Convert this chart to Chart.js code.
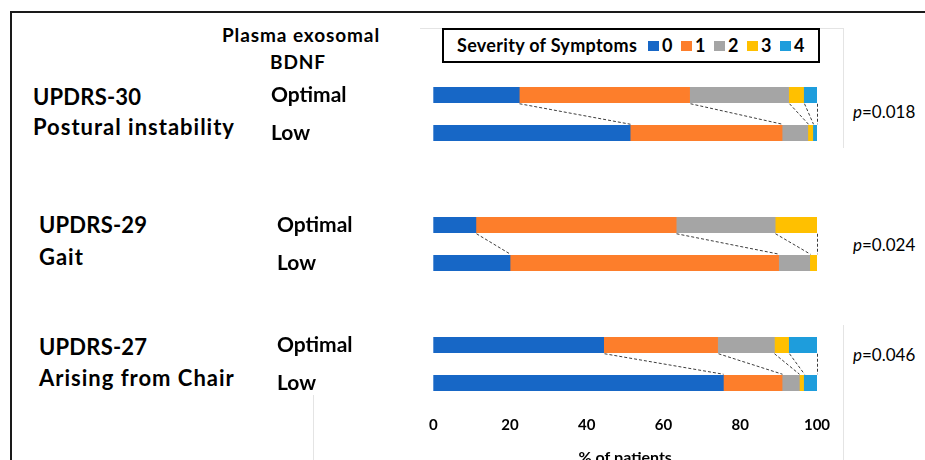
<!DOCTYPE html>
<html>
<head>
<meta charset="utf-8">
<script src="https://cdn.jsdelivr.net/npm/chart.js@4.4.1/dist/chart.umd.min.js"></script>
<style>
html,body{margin:0;padding:0;width:925px;height:460px;overflow:hidden;background:#fff;}
body{position:relative;font-family:Lato,"Noto Sans",sans-serif;color:#000;}
.t{position:absolute;white-space:nowrap;font-weight:bold;}
canvas{position:absolute;}
.frameTop{position:absolute;left:10px;top:11px;width:915px;height:2px;background:#1a1a1a;}
.frameLeft{position:absolute;left:10px;top:11px;width:2px;height:460px;background:#1a1a1a;}
.faint{position:absolute;background:#e4e4e4;}
#legend{position:absolute;left:442px;top:28px;width:374px;height:31px;border:2px solid #000;font-weight:bold;font-size:18px;line-height:31px;}
#legend span{position:absolute;white-space:nowrap;}
#legend .sw{width:11px;height:10px;top:11px;}
</style>
</head>
<body>
<div class="frameTop"></div>
<div class="frameLeft"></div>
<div class="faint" style="left:420px;top:28px;width:423px;height:1px;"></div>
<div class="faint" style="left:843px;top:28px;width:1px;height:120px;"></div>
<div class="faint" style="left:843px;top:325px;width:1px;height:135px;"></div>
<div class="faint" style="left:313px;top:395px;width:1px;height:65px;"></div>
<div id="legend"></div>
<canvas id="c0"></canvas>
<canvas id="c1"></canvas>
<canvas id="c2"></canvas>
<script>
// ---------- data ----------
const severityLevels = ['0', '1', '2', '3', '4'];
const bdnfGroups = ['Optimal', 'Low'];
const itemCodes = ['UPDRS-30', 'UPDRS-29', 'UPDRS-27'];
const itemNames = ['Postural instability', 'Gait', 'Arising from Chair'];
const pValues = ['0.018', '0.024', '0.046'];
const xTickValues = [0, 20, 40, 60, 80, 100];
const updrs30Optimal = [22.4, 44.4, 25.8, 3.9, 3.5];
const updrs30Low     = [51.3, 39.6, 6.7, 1.3, 1.1];
const updrs29Optimal = [11.1, 52.2, 25.8, 10.9, 0];
const updrs29Low     = [20.0, 70.0, 8.1, 1.9, 0];
const updrs27Optimal = [44.4, 29.7, 14.8, 3.7, 7.4];
const updrs27Low     = [75.6, 15.3, 4.5, 1.1, 3.5];
const legendTitle = 'Severity of Symptoms';
const headerLines = ['Plasma exosomal', 'BDNF'];
const xAxisTitle = '% of patients';

// ---------- styles ----------
const palette = ['#1767C6', '#FD7E2B', '#A5A5A5', '#FFC000', '#1E9DDC'];
const fontFam = 'Lato, "Noto Sans", sans-serif';

// ---------- text ----------
function addText(txt, left, cy, size, opts = {}) {
  const d = document.createElement('div');
  d.className = 't';
  d.textContent = txt;
  d.style.fontSize = size + 'px';
  d.style.lineHeight = (size * 1.2) + 'px';
  d.style.top = (cy - size * 0.6) + 'px';
  d.style.left = left + 'px';
  if (opts.center) d.style.transform = 'translateX(-50%)';
  if (opts.normal) d.style.fontWeight = 'normal';
  if (opts.ls) d.style.letterSpacing = opts.ls + 'px';
  document.body.appendChild(d);
  return d;
}
addText(headerLines[0], 301, 35, 19, {center: true, ls: 0.9});
addText(headerLines[1], 298, 62, 19, {center: true, ls: 0.9});

const layout = [
  {left: 271, top: 75.5, codeX: 33, codeY: 97, nameY: 127, pY: 112},
  {left: 277, top: 205.5, codeX: 39, codeY: 225, nameY: 257, pY: 245},
  {left: 277, top: 326, codeX: 39, codeY: 347, nameY: 378, pY: 355}
];
itemCodes.forEach((c, i) => {
  addText(c, layout[i].codeX, layout[i].codeY, 22, {ls: 0.2});
  addText(itemNames[i], layout[i].codeX, layout[i].nameY, 22, {ls: 1});
  const p = addText('', 853, layout[i].pY, 17, {normal: true});
  const it = document.createElement('i'); it.textContent = 'p';
  p.appendChild(it);
  p.appendChild(document.createTextNode('=' + pValues[i]));
});

// legend
const lg = document.getElementById('legend');
const lt = document.createElement('span');
lt.textContent = legendTitle; lt.style.left = '13px'; lt.style.letterSpacing = '0.3px';
lg.appendChild(lt);
severityLevels.forEach((s, i) => {
  const x0 = 204 + i * 33;
  const sw = document.createElement('span'); sw.className = 'sw';
  sw.style.background = palette[i]; sw.style.left = x0 + 'px';
  const tx = document.createElement('span'); tx.textContent = s; tx.style.left = (x0 + 14) + 'px';
  lg.appendChild(sw); lg.appendChild(tx);
});

// ---------- charts ----------
const connectorPlugin = {
  id: 'connectors',
  afterDatasetsDraw(chart) {
    const ctx = chart.ctx, xs = chart.scales.x;
    const meta = chart.getDatasetMeta(0);
    const b0 = meta.data[0], b1 = meta.data[1];
    const y0 = b0.y + b0.height / 2 + 1, y1 = b1.y - b1.height / 2 - 1;
    let c0 = 0, c1 = 0;
    ctx.save();
    ctx.setLineDash([3, 2]);
    ctx.strokeStyle = '#3c3c3c';
    ctx.lineWidth = 1;
    chart.data.datasets.forEach(ds => {
      const d = ds.data;
      if (!d[0] && !d[1]) return;
      c0 += d[0]; c1 += d[1];
      ctx.beginPath();
      ctx.moveTo(Math.round(xs.getPixelForValue(c0)) + 0.5, y0);
      ctx.lineTo(Math.round(xs.getPixelForValue(c1)) + 0.5, y1);
      ctx.stroke();
    });
    ctx.restore();
  }
};

const seriesSets = [
  [updrs30Optimal, updrs30Low],
  [updrs29Optimal, updrs29Low],
  [updrs27Optimal, updrs27Low]
];
const plotRight = 817, plotLeft = 433.3, padRight = 20;

seriesSets.forEach((pair, idx) => {
  const L = layout[idx];
  const last = idx === seriesSets.length - 1;
  const canvas = document.getElementById('c' + idx);
  const w = plotRight - L.left + padRight;
  const h = last ? 142 : 76;
  canvas.width = w; canvas.height = h;
  canvas.style.left = L.left + 'px';
  canvas.style.top = L.top + 'px';
  canvas.style.width = w + 'px'; canvas.style.height = h + 'px';
  new Chart(canvas, {
    type: 'bar',
    data: {
      labels: bdnfGroups,
      datasets: severityLevels.map((s, i) => ({
        label: s,
        data: [pair[0][i], pair[1][i]],
        backgroundColor: palette[i],
        borderWidth: 0,
        barThickness: 15.5
      }))
    },
    options: {
      indexAxis: 'y',
      responsive: false,
      animation: false,
      devicePixelRatio: 1,
      layout: {padding: {left: 0, right: padRight, top: 0, bottom: 0}},
      plugins: {legend: {display: false}, tooltip: {enabled: false}},
      scales: {
        x: {
          stacked: true, min: 0, max: 100,
          display: last,
          grid: {display: false, drawTicks: false},
          border: {display: false},
          afterBuildTicks: s => { s.ticks = xTickValues.map(v => ({value: v})); },
          ticks: {padding: 14, color: '#000', font: {family: fontFam, size: 15, weight: 'bold'}},
          title: {display: true, text: xAxisTitle, color: '#000', padding: {top: 0, bottom: 1},
                  font: {family: fontFam, size: 16, weight: 'bold'}},
          afterFit: s => {
            s.paddingLeft = 0; s.paddingRight = 0;
            if (last) s.height = 66;
          }
        },
        y: {
          stacked: true,
          grid: {display: false, drawTicks: false},
          border: {display: false},
          ticks: {crossAlign: 'far', padding: 0, color: '#000', font: {family: fontFam, size: 21, weight: 'bold'}},
          afterFit: s => {
            s.width = plotLeft - L.left;
            s.paddingTop = 0; s.paddingBottom = 0;
          }
        }
      }
    },
    plugins: [connectorPlugin]
  });
});
</script>
</body>
</html>
